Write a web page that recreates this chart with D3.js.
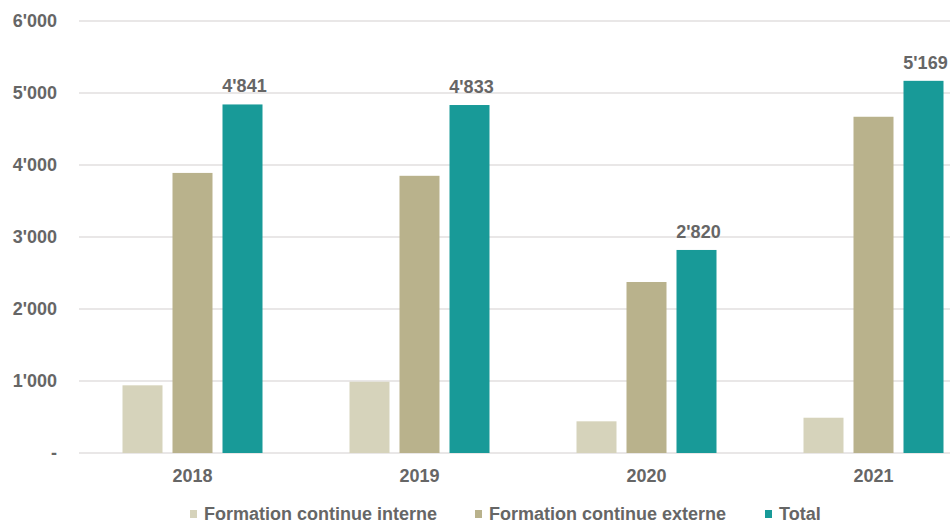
<!DOCTYPE html>
<html>
<head>
<meta charset="utf-8">
<script src="https://cdn.jsdelivr.net/npm/d3@7"></script>
<style>
  body { margin: 0; background: #fff; }
  svg { font-family: "Liberation Sans", Arial, sans-serif; font-weight: bold; }
</style>
</head>
<body>
<div id="chart"></div>
<script>
var years = ["2018", "2019", "2020", "2021"];
var series = ["Formation continue interne", "Formation continue externe", "Total"];
var interne = [940, 990, 440, 490];
var externe = [3890, 3850, 2375, 4670];
var total = [4841, 4833, 2820, 5169];
var yTicks = [0, 1000, 2000, 3000, 4000, 5000, 6000];
var colors = ["#d6d3bb", "#b9b28c", "#189a98"];

var width = 950, height = 525;
var svg = d3.select("#chart").append("svg")
            .attr("width", width)
            .attr("height", height);

var x = d3.scaleBand().domain(years).range([79, 987]).padding(0);
var inner = d3.scaleBand().domain(series).range([-70, 70]).paddingInner(0.2);
var y = d3.scaleLinear().domain([0, 6000]).range([453, 21]);

var fmt = function(v) {
    if (v === 0) return "-";
    return d3.format(",")(v).replace(/,/g, "'");
}

// gridlines
svg.append("g").selectAll("line")
    .data(yTicks)
    .enter().append("line")
    .attr("x1", 79).attr("x2", width)
    .attr("y1", d => y(d)).attr("y2", d => y(d))
    .attr("stroke", "#e2dfdf")
    .attr("stroke-width", 1.5);

// y labels
svg.append("g").selectAll("text")
    .data(yTicks)
    .enter().append("text")
    .attr("x", 57)
    .attr("y", d => y(d) + 6)
    .attr("text-anchor", "end")
    .attr("font-size", "18px")
    .attr("fill", "#666")
    .text(fmt);

var rows = years.map((yr, i) => ({ year: yr, values: [interne[i], externe[i], total[i]] }));

var g = svg.selectAll("g.grp")
    .data(rows)
    .enter().append("g")
    .attr("class", "grp")
    .attr("transform", d => "translate(" + (x(d.year) + x.bandwidth() / 2) + ",0)");

g.selectAll("rect")
    .data(d => d.values.map((v, j) => ({ s: series[j], v: v, c: colors[j] })))
    .enter().append("rect")
    .attr("x", d => inner(d.s))
    .attr("width", inner.bandwidth())
    .attr("y", d => y(d.v))
    .attr("height", d => y(0) - y(d.v))
    .attr("fill", d => d.c);

g.append("text")
    .attr("x", inner("Total") + inner.bandwidth() / 2 + 2)
    .attr("y", d => y(d.values[2]) - 12)
    .attr("text-anchor", "middle")
    .attr("font-size", "18px")
    .attr("fill", "#666")
    .text(d => fmt(d.values[2]));

g.append("text")
    .attr("x", 0)
    .attr("y", 482)
    .attr("text-anchor", "middle")
    .attr("font-size", "18px")
    .attr("fill", "#666")
    .text(d => d.year);

// legend
var legX = [190, 475, 765];
var leg = svg.append("g").selectAll("g")
    .data(series)
    .enter().append("g")
    .attr("transform", (d, i) => "translate(" + legX[i] + ",520)");
leg.append("rect")
    .attr("x", 0).attr("y", -10)
    .attr("width", 7).attr("height", 8)
    .attr("fill", (d, i) => colors[i]);
leg.append("text")
    .attr("x", 14)
    .attr("y", 0)
    .attr("font-size", "18px")
    .attr("fill", "#666")
    .text(d => d);
</script>
</body>
</html>
